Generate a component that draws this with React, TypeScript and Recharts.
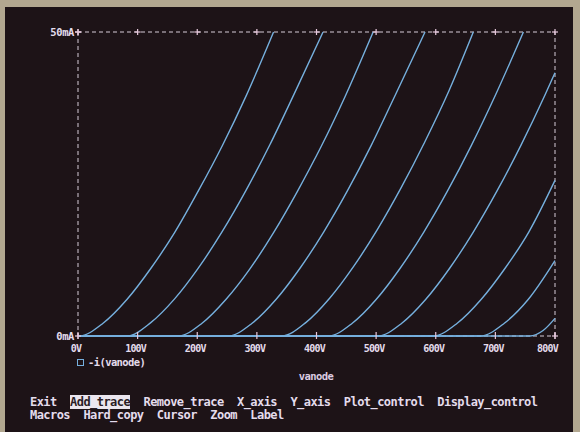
import { LineChart, Line, XAxis, YAxis, ReferenceLine, ReferenceDot } from 'recharts';

// anode voltage (V) / anode current (mA) pairs, one trace per grid step
const trace1 = [[0, 0], [2, 0], [42, 2.1], [82, 6.0], [122, 11.1], [162, 17.0], [202, 23.9], [242, 31.3], [282, 39.5], [328, 50]];
const trace2 = [[0, 0], [82, 0], [122, 2.2], [162, 6.1], [202, 11.2], [242, 17.2], [282, 24.0], [322, 31.5], [362, 39.7], [411, 50]];
const trace3 = [[0, 0], [168, 0], [208, 2.1], [248, 6.0], [288, 11.0], [328, 17.0], [368, 23.8], [408, 31.2], [448, 39.4], [495, 50]];
const trace4 = [[0, 0], [252, 0], [292, 2.1], [332, 6.0], [372, 11.1], [412, 17.1], [452, 23.9], [492, 31.4], [532, 39.6], [582, 50]];
const trace5 = [[0, 0], [342, 0], [382, 2.2], [422, 6.2], [462, 11.4], [502, 17.5], [542, 24.4], [582, 32.0], [622, 40.3], [663, 50]];
const trace6 = [[0, 0], [420, 0], [460, 2.1], [500, 6.0], [540, 11.1], [580, 17.1], [620, 23.9], [660, 31.4], [700, 39.6], [747, 50]];
const trace7 = [[0, 0], [503, 0], [543, 2.1], [583, 6.0], [623, 11.1], [663, 17.1], [703, 23.9], [743, 31.4], [783, 39.6], [800, 43.3]];
const trace8 = [[0, 0], [596, 0], [636, 2.1], [676, 6.0], [716, 11.1], [756, 17.1], [800, 25.6]];
const trace9 = [[0, 0], [675, 0], [715, 2.1], [755, 6.0], [800, 12.4]];
const trace10 = [[0, 0], [758, 0], [780, 0.9], [800, 2.9]];

const traces = [trace1, trace2, trace3, trace4, trace5, trace6, trace7, trace8, trace9, trace10];

const voltTicks = [0, 100, 200, 300, 400, 500, 600, 700, 800];
const currentTicks = [0, 50];

const menuLine1 = ['Exit', 'Add_trace', 'Remove_trace', 'X_axis', 'Y_axis', 'Plot_control', 'Display_control'];
const menuLine2 = ['Macros', 'Hard_copy', 'Cursor', 'Zoom', 'Label'];

const SCREEN = '#1d1317';
const FRAME = '#b2a790';
const TRACE = '#76b0de';
const BORDER = '#d6ccd8';
const TICK = '#e6c8dc';
const TEXT = '#e4dcec';
const MONO = '"DejaVu Sans Mono", "Liberation Mono", monospace';

const Plus = ({ x, y }: { x: number; y: number }) => (
    <g stroke={TICK} strokeWidth={1.2}>
        <line x1={x - 3} x2={x + 3} y1={y} y2={y} />
        <line x1={x} x2={x} y1={y - 3} y2={y + 3} />
    </g>
);

const PlusDot = (props: any) => <Plus x={props.cx} y={props.cy} />;

const BottomTick = (props: any) => {
    const { x, y, payload } = props;
    const last = payload.value === 800;
    return (
        <g>
            <line x1={x} x2={x} y1={y - 4} y2={y + 3} stroke={TICK} strokeWidth={1.2} />
            <text
                x={last ? x + 3 : x - 2}
                y={y + 16}
                textAnchor={last ? 'end' : 'middle'}
                fill={TEXT}
                fontFamily={MONO}
                fontWeight="bold"
                fontSize={10}
                letterSpacing={-0.8}
            >
                {payload.value}V
            </text>
        </g>
    );
};

const LeftTick = (props: any) => {
    const { x, y, payload } = props;
    return (
        <g>
            <Plus x={x} y={y} />
            <text
                x={x - 4}
                y={y}
                dy="0.35em"
                textAnchor="end"
                fill={TEXT}
                fontFamily={MONO}
                fontWeight="bold"
                fontSize={10.5}
                letterSpacing={-0.4}
            >
                {payload.value}mA
            </text>
        </g>
    );
};

export default function App() {
    const dash = '4 3';
    return (
        <div
            style={{
                position: 'absolute',
                left: 0,
                top: 0,
                width: 580,
                height: 432,
                background: FRAME,
                overflow: 'hidden'
            }}
        >
            <div style={{ position: 'absolute', left: 5, top: 7, width: 568, height: 425, background: SCREEN }} />
            <div style={{ position: 'absolute', left: 0, top: 0 }}>
                <LineChart width={580} height={432} margin={{ top: 32, right: 25, left: 0, bottom: 76 }}>
                    <ReferenceLine y={0} stroke={BORDER} strokeDasharray={dash} />
                    <ReferenceLine y={50} stroke={BORDER} strokeDasharray={dash} />
                    <ReferenceLine x={800} stroke={BORDER} strokeDasharray={dash} />
                    <XAxis
                        dataKey="v"
                        type="number"
                        domain={[0, 800]}
                        ticks={voltTicks}
                        height={20}
                        axisLine={false}
                        tickLine={false}
                        tickSize={0}
                        tickMargin={0}
                        tick={BottomTick}
                        interval={0}
                    />
                    <YAxis
                        type="number"
                        domain={[0, 50]}
                        ticks={currentTicks}
                        width={78}
                        axisLine={{ stroke: BORDER, strokeDasharray: dash }}
                        tickLine={false}
                        tickSize={0}
                        tickMargin={0}
                        tick={LeftTick}
                        interval={0}
                    />
                    {traces.map((t, k) => (
                        <Line
                            key={k}
                            data={t.map(([v, i]) => ({ v, i }))}
                            dataKey="i"
                            type="monotone"
                            stroke={TRACE}
                            strokeWidth={1.4}
                            dot={false}
                            activeDot={false}
                            isAnimationActive={false}
                        />
                    ))}
                    {voltTicks.map((v) => (
                        <ReferenceDot key={v} x={v} y={50} r={3} shape={PlusDot} />
                    ))}
                    <ReferenceDot x={800} y={0} r={3} shape={PlusDot} />
                </LineChart>
            </div>
            {/* legend */}
            <div
                style={{
                    position: 'absolute',
                    left: 77,
                    top: 359,
                    width: 5,
                    height: 5,
                    border: `1px solid ${TRACE}`
                }}
            />
            <div
                style={{
                    position: 'absolute',
                    left: 88,
                    top: 356,
                    color: TEXT,
                    fontFamily: MONO,
                    fontWeight: 'bold',
                    fontSize: 10.5,
                    letterSpacing: -0.6,
                    whiteSpace: 'pre'
                }}
            >
                -i(vanode)
            </div>
            <div
                style={{
                    position: 'absolute',
                    left: 216,
                    width: 200,
                    top: 370,
                    textAlign: 'center',
                    color: '#dccbe2',
                    fontFamily: MONO,
                    fontWeight: 'bold',
                    fontSize: 10.5,
                    letterSpacing: -0.6
                }}
            >
                vanode
            </div>
            {/* menu */}
            {[menuLine1, menuLine2].map((line, r) => (
                <div
                    key={r}
                    style={{
                        position: 'absolute',
                        left: 30,
                        top: 396 + r * 13,
                        color: TEXT,
                        fontFamily: MONO,
                        fontWeight: 'bold',
                        fontSize: 12,
                        lineHeight: '13px',
                        letterSpacing: -0.55,
                        whiteSpace: 'pre'
                    }}
                >
                    {line.map((word, k) => (
                        <span key={word}>
                            {k > 0 ? '  ' : ''}
                            <span
                                style={
                                    word === 'Add_trace'
                                        ? { background: '#ebe6ef', color: '#2a1d26' }
                                        : undefined
                                }
                            >
                                {word}
                            </span>
                        </span>
                    ))}
                </div>
            ))}
        </div>
    );
}
